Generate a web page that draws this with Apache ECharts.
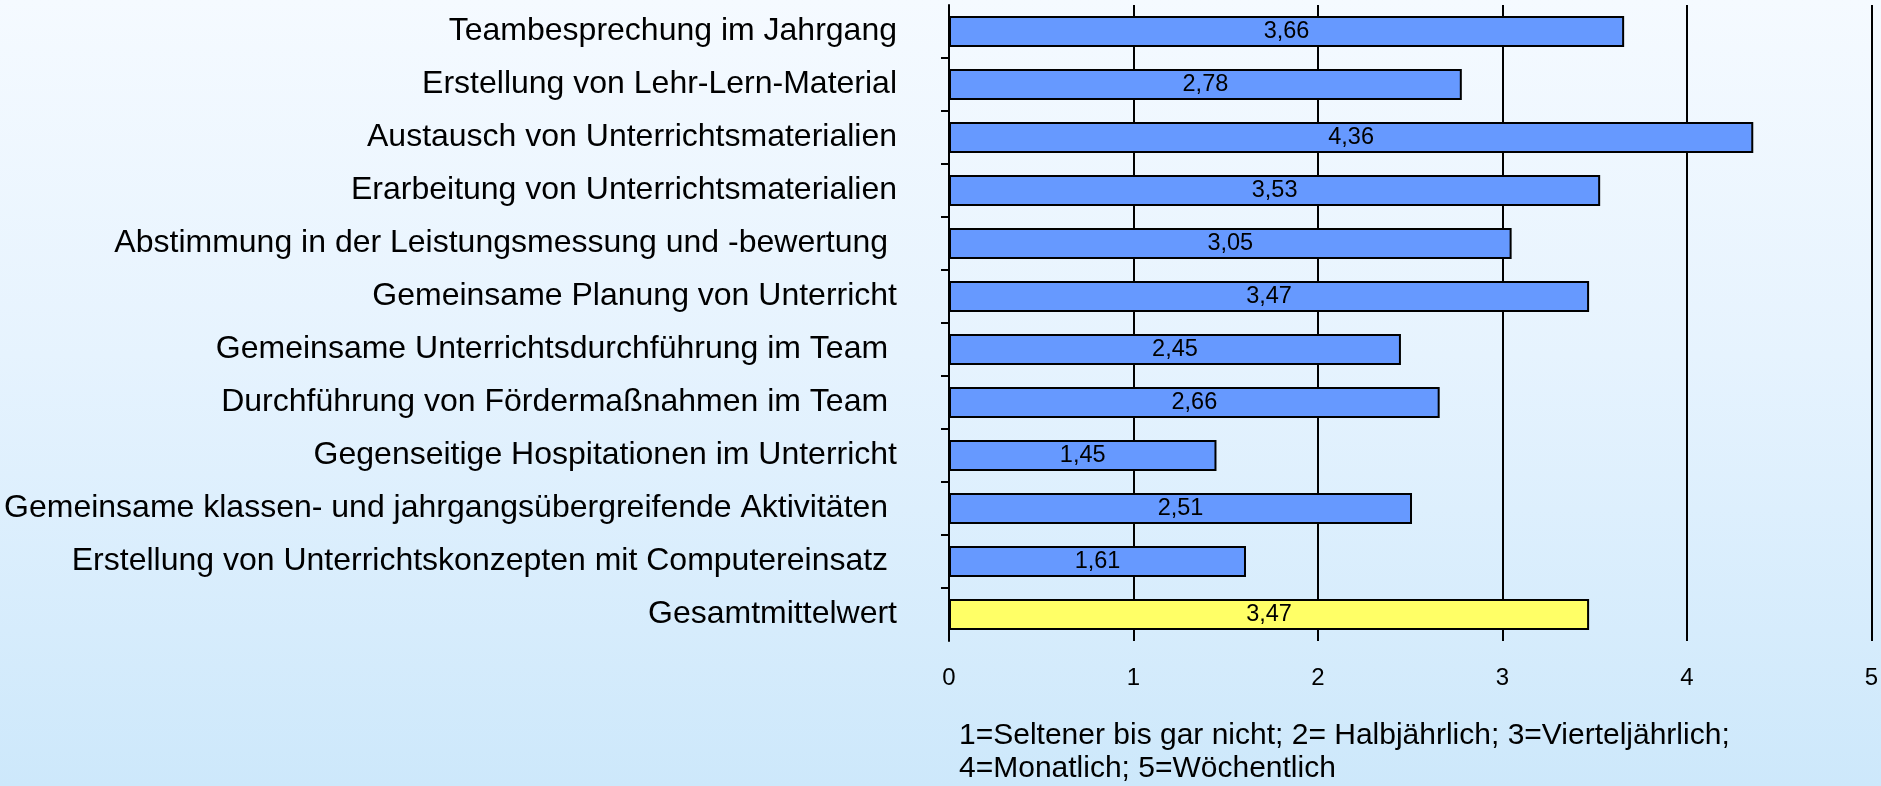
<!DOCTYPE html>
<html>
<head>
<meta charset="utf-8">
<script src="https://cdn.jsdelivr.net/npm/echarts@6/dist/echarts.min.js"></script>
<style>
  html, body { margin: 0; padding: 0; }
  #chart {
    width: 1881px;
    height: 786px;
    background: linear-gradient(to bottom, #f5faff 0%, #e6f3fe 45%, #cde8fb 100%);
  }
</style>
</head>
<body>
<div id="chart"></div>
<script>
// labels with a trailing blank are drawn that way in the source slide
const categories = [
  'Teambesprechung im Jahrgang',
  'Erstellung von Lehr-Lern-Material',
  'Austausch von Unterrichtsmaterialien',
  'Erarbeitung von Unterrichtsmaterialien',
  'Abstimmung in der Leistungsmessung und -bewertung ',
  'Gemeinsame Planung von Unterricht',
  'Gemeinsame Unterrichtsdurchführung im Team ',
  'Durchführung von Fördermaßnahmen im Team ',
  'Gegenseitige Hospitationen im Unterricht',
  'Gemeinsame klassen- und jahrgangsübergreifende Aktivitäten ',
  'Erstellung von Unterrichtskonzepten mit Computereinsatz ',
  'Gesamtmittelwert'
];
const means = [3.66, 2.78, 4.36, 3.53, 3.05, 3.47, 2.45, 2.66, 1.45, 2.51, 1.61, 3.47];
const xTicks = [0, 1, 2, 3, 4, 5];
const footnote = [
  '1=Seltener bis gar nicht; 2= Halbjährlich; 3=Vierteljährlich;',
  '4=Monatlich; 5=Wöchentlich'
];

// separators between the rows only (no tick at the very top / bottom)
const rowSeparators = categories.slice(1).map((_, i) => i + 1);

const FONT = 'Liberation Sans, Arial, sans-serif';
const chart = echarts.init(document.getElementById('chart'));

const barData = means.map((v, i) => ({
  value: v,
  itemStyle: { color: i === means.length - 1 ? '#ffff66' : '#6699ff' }
}));

chart.setOption({
  backgroundColor: 'transparent',
  animation: false,
  grid: { left: 949, right: 6, top: 5, bottom: 145, containLabel: false },
  xAxis: {
    type: 'value',
    min: xTicks[0],
    max: xTicks[xTicks.length - 1],
    interval: 1,
    axisLine: { show: false },
    axisTick: { show: false },
    axisLabel: { color: '#000', fontFamily: FONT, fontSize: 24, margin: 25 },
    splitLine: { show: true, lineStyle: { color: '#000', width: 2 } }
  },
  yAxis: [
    {
      type: 'category',
      inverse: true,
      data: categories,
      axisLine: { show: true, lineStyle: { color: '#000', width: 2 } },
      axisTick: { show: false },
      axisLabel: { color: '#000', fontFamily: FONT, fontSize: 32, margin: 52 }
    },
    {
      // helper axis that only carries the small row separator ticks
      type: 'value',
      position: 'left',
      inverse: true,
      min: 0,
      max: categories.length,
      axisLine: { show: false },
      axisLabel: { show: false },
      splitLine: { show: false },
      axisTick: {
        show: true,
        length: 8,
        customValues: rowSeparators,
        lineStyle: { color: '#000', width: 2 }
      }
    }
  ],
  series: [{
    type: 'bar',
    yAxisIndex: 0,
    data: barData,
    barWidth: 31,
    itemStyle: { borderColor: '#000', borderWidth: 2 },
    label: {
      show: true,
      position: 'inside',
      color: '#000',
      fontFamily: FONT,
      fontSize: 23.5,
      formatter: (p) => p.value.toFixed(2).replace('.', ',')
    }
  }],
  graphic: footnote.map((line, i) => ({
    type: 'text',
    x: 959,
    y: 736 + i * 32.5,
    style: {
      text: line,
      fill: '#000',
      font: '30px "Liberation Sans", Arial, sans-serif',
      verticalAlign: 'middle'
    }
  }))
});
</script>
</body>
</html>
